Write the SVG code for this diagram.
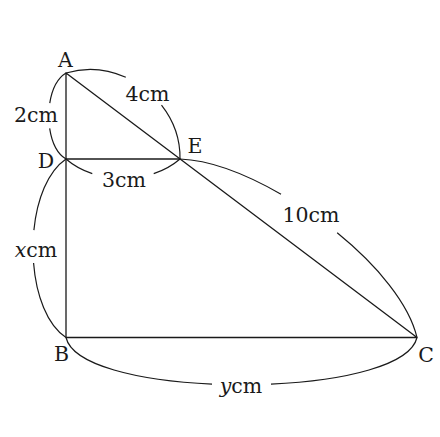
<svg xmlns="http://www.w3.org/2000/svg" width="440" height="437" viewBox="0 0 440 437">
<style>
.ln{stroke:#1a1a1a;stroke-width:1.3;fill:none;stroke-linejoin:round}
.br{stroke:#1a1a1a;stroke-width:1.2;fill:none}
text{font-family:"DejaVu Serif","Liberation Serif",serif;font-size:20.5px;fill:#1a1a1a;text-anchor:middle}
.it{font-style:italic}
</style>
<rect width="440" height="437" fill="#ffffff"/>
<g id="connectors">
  <path id="triangle-ABC" class="ln" d="M66 73 L66 337.5 L417 337.5 Z"/>
  <path id="segment-DE" class="ln" d="M66 159 L180 159"/>
</g>
<g id="braces">
  <path id="brace-AD" class="br" pathLength="100" stroke-dasharray="36.5 26.3 37.2" d="M66 73 C43 87 43 145 66 159"/>
  <path id="brace-AE" class="br" pathLength="100" stroke-dasharray="37.1 27.7 35.2" d="M66 73 C121.2 56.2 181 101.2 180 159"/>
  <path id="brace-DE" class="br" pathLength="100" stroke-dasharray="24.6 50.8 24.6" d="M66 159 C96 185 150 185 180 159"/>
  <path id="brace-EC" class="br" pathLength="100" stroke-dasharray="34.85 22 43.15" d="M180 159 C260.4 162.1 399.3 261.9 417 337.5"/>
  <path id="brace-DB" class="br" pathLength="100" stroke-dasharray="40.8 16.7 42.5" d="M66 159 C22 189 22 308 66 337.5"/>
  <path id="brace-BC" class="br" pathLength="100" stroke-dasharray="42.2 15.6 42.2" d="M66 337.5 C81 400.5 402 400.5 417 337.5"/>
</g>
<g id="A"><text x="65.5" y="67">A</text></g>
<g id="D"><text x="46" y="167.5">D</text></g>
<g id="E"><text x="195" y="152.5">E</text></g>
<g id="B"><text x="61.5" y="361">B</text></g>
<g id="C"><text x="426" y="361.5">C</text></g>
<g id="labels">
  <text x="36" y="121.5">2cm</text>
  <text x="147.5" y="100.5">4cm</text>
  <text x="124" y="187">3cm</text>
  <text x="311" y="222">10cm</text>
  <text x="36" y="256.5"><tspan class="it">x</tspan>cm</text>
  <text x="241" y="392.5"><tspan class="it">y</tspan>cm</text>
</g>
</svg>
